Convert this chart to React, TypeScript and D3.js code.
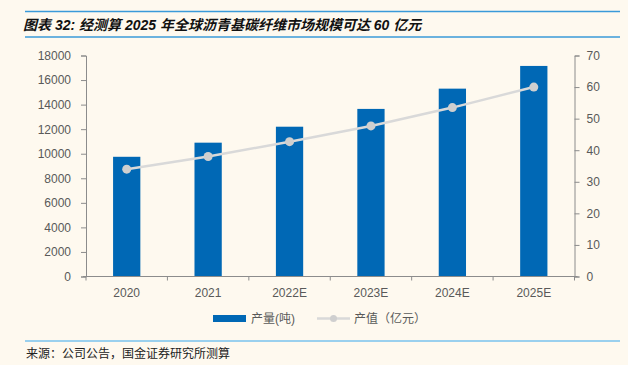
import React, { useEffect, useRef } from 'react';
import * as d3 from 'd3';

const years = ['2020', '2021', '2022E', '2023E', '2024E', '2025E'];
const output = [9750, 10900, 12200, 13650, 15300, 17150];
const value = [34.0, 38.0, 42.7, 47.7, 53.5, 60.0];
const leftTicks = [0, 2000, 4000, 6000, 8000, 10000, 12000, 14000, 16000, 18000];
const rightTicks = [0, 10, 20, 30, 40, 50, 60, 70];

const W = 628;
const H = 365;
const BG = '#fef9ef';
const BLUE = '#0068b5';
const LINE = '#d9d9d9';
const AXIS = '#8c8c8c';
const TXT = '#595959';
const sans = '"Liberation Sans", Arial, sans-serif';
const cjk = '"Liberation Sans", "Noto Sans CJK SC", sans-serif';

export default function App() {
    const ref = useRef<SVGSVGElement>(null);

    useEffect(() => {
        const svg = d3.select(ref.current);
        svg.selectAll('*').remove();

        const x0 = 86, x1 = 574.5, y0 = 276.5, y1 = 55.5;

        svg.append('rect').attr('width', W).attr('height', H).attr('fill', BG);

        // title with rules
        svg.append('line').attr('x1', 25).attr('x2', 620).attr('y1', 11.5).attr('y2', 11.5)
            .attr('stroke', '#3a9ad9').attr('stroke-width', 1.5);
        svg.append('line').attr('x1', 25).attr('x2', 620).attr('y1', 37).attr('y2', 37)
            .attr('stroke', '#3a9ad9').attr('stroke-width', 1.5);
        svg.append('text').attr('x', 23).attr('y', 30)
            .attr('font-family', cjk).attr('font-size', 14).attr('font-weight', 'bold')
            .attr('font-style', 'italic').attr('fill', '#111')
            .text('图表 32: 经测算 2025 年全球沥青基碳纤维市场规模可达 60 亿元');

        const x = d3.scaleBand<string>().domain(years).range([x0, x1]).paddingInner(0.665).paddingOuter(0.3325);
        const yL = d3.scaleLinear().domain([0, 18000]).range([y0, y1]);
        const yR = d3.scaleLinear().domain([0, 70]).range([y0, y1]);

        // bars
        svg.append('g').selectAll('rect').data(output).enter().append('rect')
            .attr('x', (d, i) => x(years[i])!)
            .attr('width', x.bandwidth())
            .attr('y', d => yL(d))
            .attr('height', d => y0 - yL(d))
            .attr('fill', BLUE);

        // left axis
        const gL = svg.append('g').attr('transform', `translate(${x0},0)`);
        gL.call(d3.axisLeft(yL).tickValues(leftTicks).tickSize(5).tickPadding(10).tickFormat(d3.format('d')) as any);
        gL.select('.domain').attr('stroke', AXIS);
        gL.selectAll('.tick line').attr('stroke', AXIS);
        gL.selectAll('.tick text').attr('fill', TXT).attr('font-family', sans).attr('font-size', 12);

        // right axis
        const gR = svg.append('g').attr('transform', `translate(${x1},0)`);
        gR.call(d3.axisRight(yR).tickValues(rightTicks).tickSize(5).tickPadding(7) as any);
        gR.select('.domain').attr('stroke', AXIS);
        gR.selectAll('.tick line').attr('stroke', AXIS);
        gR.selectAll('.tick text').attr('fill', TXT).attr('font-family', sans).attr('font-size', 12);

        // bottom axis
        const gB = svg.append('g').attr('transform', `translate(0,${y0})`);
        gB.append('line').attr('x1', x0 - 3).attr('x2', x1 + 3).attr('stroke', AXIS);
        const step = x.step();
        gB.selectAll('.tk').data(d3.range(years.length + 1)).enter().append('line')
            .attr('x1', i => x0 + i * step).attr('x2', i => x0 + i * step)
            .attr('y1', 0).attr('y2', 4).attr('stroke', AXIS);
        gB.selectAll('text').data(years).enter().append('text')
            .attr('x', d => x(d)! + x.bandwidth() / 2).attr('y', 20)
            .attr('text-anchor', 'middle').attr('fill', TXT)
            .attr('font-family', sans).attr('font-size', 12).text(d => d);

        // line
        const cx = (i: number) => x(years[i])! + x.bandwidth() / 2;
        const line = d3.line<number>().x((d, i) => cx(i)).y(d => yR(d));
        svg.append('path').datum(value).attr('d', line).attr('fill', 'none')
            .attr('stroke', LINE).attr('stroke-width', 2.5);
        svg.append('g').selectAll('circle').data(value).enter().append('circle')
            .attr('cx', (d, i) => cx(i)).attr('cy', d => yR(d)).attr('r', 4.5)
            .attr('fill', '#cfcfcf');

        // legend
        const lg = svg.append('g');
        lg.append('rect').attr('x', 213).attr('y', 315).attr('width', 33).attr('height', 7).attr('fill', BLUE);
        lg.append('text').attr('x', 251).attr('y', 323).attr('font-family', cjk).attr('font-size', 12)
            .attr('fill', TXT).text('产量(吨)');
        lg.append('line').attr('x1', 317).attr('x2', 350).attr('y1', 318.5).attr('y2', 318.5)
            .attr('stroke', LINE).attr('stroke-width', 2.5);
        lg.append('circle').attr('cx', 333.5).attr('cy', 318.5).attr('r', 3.5).attr('fill', '#cfcfcf');
        lg.append('text').attr('x', 354).attr('y', 323).attr('font-family', cjk).attr('font-size', 12)
            .attr('fill', TXT).text('产值（亿元）');

        // source
        svg.append('line').attr('x1', 25).attr('x2', 620).attr('y1', 341).attr('y2', 341)
            .attr('stroke', '#9ad0ee').attr('stroke-width', 2);
        svg.append('text').attr('x', 26).attr('y', 358).attr('font-family', cjk).attr('font-size', 12)
            .attr('fill', '#222').text('来源：公司公告，国金证券研究所测算');
    }, []);

    return <svg ref={ref} width={W} height={H} style={{ display: 'block', position: 'absolute', left: 0, top: 0 }} />;
}
